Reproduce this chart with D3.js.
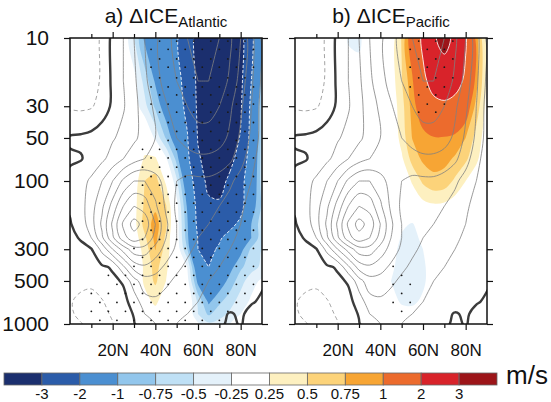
<!DOCTYPE html>
<html>
<head>
<meta charset="utf-8">
<script src="https://cdn.jsdelivr.net/npm/d3@7"></script>
<style>
  body { margin: 0; background: #fff; }
  text { font-family: "Liberation Sans", Arial, Helvetica, sans-serif; }
</style>
</head>
<body>
<div id="chart"></div>
<script>
// ---- data ----
// grid: latitude (deg N) x pressure (hPa)
var lats = [0, 5, 10, 15, 20, 25, 30, 35, 40, 45, 50, 55, 60, 65, 70, 75, 80, 85, 90];
var levels = [10, 20, 30, 50, 70, 100, 150, 200, 250, 300, 400, 500, 700, 850, 1000];

// climatological zonal wind (grey contours), m/s
var uClim = [
  [-7.5, -7, -6.5, -4.5, 1.5, 5, 10, 15, 19, 23, 27, 30, 32, 32, 30, 26, 20, 12, 4],
  [-7.5, -7, -6.5, -4.5, 1.2, 5, 9, 14, 18, 22, 25, 28, 30, 30, 28, 24, 18, 11, 4],
  [-6, -6, -5.5, -3, 1, 4.5, 8.5, 12.5, 16, 19.5, 23, 25, 27, 27, 25, 21, 16, 10, 3],
  [0.5, 0.8, 1.5, 3, 4.5, 6.5, 9, 12, 15, 17.5, 20, 22, 23, 23, 22, 19, 14, 9, 3],
  [-0.5, -0.3, 1.5, 4, 7, 10, 13, 15, 16, 16.5, 17, 18, 19, 19, 18, 16, 12, 7, 2],
  [1, 3, 6, 10, 15, 21, 25, 25, 22, 18, 15, 14, 14, 14, 13, 11, 8, 5, 1.5],
  [0.5, 3, 8, 14, 22, 30, 35, 33, 26, 19, 14, 12, 12, 11, 10, 8, 6, 3, 1],
  [-0.3, 2, 8, 16, 26, 36, 42, 38, 30, 21, 15, 12, 11, 10, 9, 7, 5, 2.5, 1],
  [-1.5, 0.5, 5, 14, 24, 33, 38, 35, 28, 20, 15, 12, 10, 9, 8, 6, 4, 2, 0.8],
  [-3, -1.5, -0.3, 6.5, 15, 22, 28, 28, 23, 18, 14, 11, 9, 8, 7, 5, 3.5, 1.5, 0.5],
  [-4, -3, -2, -0.8, 0.6, 9, 17, 19, 17, 14, 11, 9, 7, 6, 5, 4, 2.5, 1, 0.2],
  [-4.2, -4.3, -4.5, -3, -1, 0.5, 8, 13, 13, 11, 9, 7, 6, 5, 4, 3, 2, 1, 0.5],
  [-4.8, -5.6, -5.8, -5.3, -3.5, -1.5, 2, 8, 9, 8, 7, 6, 5, 4, 3, 2, 1, 0.3, -0.5],
  [-4.5, -5.8, -6.5, -6, -4.5, -2, 0.3, 5, 7, 7, 6, 5, 4, 3, 1, -0.3, 0.5, -1, -2],
  [-3.5, -4.8, -6, -6.2, -5.2, -2.5, -0.3, 3, 5, 6, 5, 4, 3, 2, 0.5, -0.5, 0.2, -1, -1.5]
];

// a) Delta ICE Atlantic, m/s
var anomAtl = [
  [0, 0, 0, 0, 0, -0.05, -0.5, -1.06, -1.34, -1.63, -1.91, -2.56, -3.3, -3.6, -3.7, -3.6, -3.3, -2.25, -0.9],
  [0, 0, 0, 0, 0, 0, -0.15, -0.6, -1.04, -1.4, -1.76, -2.3, -3.2, -3.55, -3.65, -3.55, -3.2, -2.0, -0.8],
  [0, 0, 0, 0, 0, 0, -0.1, -0.42, -0.8, -1.2, -1.64, -2.2, -3.15, -3.5, -3.6, -3.5, -3.1, -1.8, -0.6],
  [0, 0, 0, 0, 0, 0, 0, 0.1, -0.3, -0.77, -1.24, -1.95, -3.05, -3.4, -3.5, -3.35, -2.95, -1.7, -0.6],
  [0, 0, 0, 0, 0, 0, 0.05, 0.28, 0.3, -0.2, -0.85, -1.8, -2.9, -3.3, -3.4, -3.2, -2.7, -1.5, -0.6],
  [0, 0, 0, 0, 0, 0, 0.1, 0.5, 0.6, 0.2, -0.45, -1.35, -2.6, -3.2, -3.25, -2.85, -2.3, -1.4, -0.6],
  [0, 0, 0, 0, 0, 0, 0.15, 0.55, 0.7, 0.52, -0.15, -1.05, -2.3, -2.85, -2.9, -2.7, -2.3, -1.2, -0.7],
  [0, 0, 0, 0, 0, 0, 0.15, 0.6, 0.85, 0.55, -0.1, -0.95, -2.2, -2.55, -2.5, -2.25, -1.8, -1.0, -0.6],
  [0, 0, 0, 0, 0, 0, 0.1, 0.45, 0.82, 0.45, -0.1, -0.9, -2.05, -2.35, -2.1, -1.7, -1.3, -1.0, -0.6],
  [0, 0, 0, 0, 0, 0, 0.05, 0.35, 0.76, 0.4, -0.05, -0.75, -2.0, -2.2, -1.9, -1.55, -1.1, -0.7, -0.5],
  [0, 0, 0, 0, 0, 0, 0, 0.3, 0.6, 0.3, 0, -0.25, -1.4, -2.0, -1.6, -1.1, -0.8, -0.6, -0.45],
  [0, 0, 0, 0, 0, 0, 0, 0.3, 0.55, 0.25, 0, -0.15, -1.1, -1.35, -1.2, -0.9, -0.6, -0.35, -0.2],
  [0, 0, 0, 0, 0, 0, 0, 0.15, 0.3, 0.1, 0, 0, -0.55, -1.05, -0.8, -0.6, -0.38, -0.2, -0.1],
  [0, 0, 0, 0, 0, 0, 0, 0.05, 0.15, 0, 0, 0, -0.5, -0.8, -0.6, -0.45, -0.25, -0.1, 0],
  [0, 0, 0, 0, 0, 0, 0, 0, 0, 0, 0, 0, -0.2, -0.45, -0.4, -0.25, -0.1, 0, 0]
];

// b) Delta ICE Pacific, m/s
var anomPac = [
  [0, 0, 0, 0, 0, -0.28, -0.3, -0.1, 0, 0.1, 0.52, 1.3, 2.2, 2.9, 3.3, 2.8, 2.1, 0.85, 0.15],
  [0, 0, 0, 0, 0, -0.1, -0.15, 0, 0, 0.1, 0.48, 0.95, 1.8, 2.35, 2.5, 2.35, 1.85, 0.85, 0.2],
  [0, 0, 0, 0, 0, 0, 0, 0, 0, 0.05, 0.4, 0.85, 1.3, 1.75, 1.85, 1.7, 1.25, 0.65, 0.15],
  [0, 0, 0, 0, 0, 0, 0, 0, 0, 0, 0.35, 0.76, 0.88, 0.97, 0.97, 0.9, 0.75, 0.4, 0.1],
  [0, 0, 0, 0, 0, 0, 0, 0, 0, 0, 0.2, 0.6, 0.8, 0.85, 0.82, 0.72, 0.55, 0.3, 0.05],
  [0, 0, 0, 0, 0, 0, 0, 0, 0, 0, 0.05, 0.28, 0.55, 0.68, 0.65, 0.45, 0.25, 0.1, 0],
  [0, 0, 0, 0, 0, 0, 0, 0, 0, 0, 0, 0.05, 0.15, 0.2, 0.18, 0.1, 0, 0, 0],
  [0, 0, 0, 0, 0, 0, 0, 0, 0, 0, -0.2, -0.27, -0.1, 0, 0, 0, 0, 0, 0],
  [0, 0, 0, 0, 0, 0, 0, 0, 0, -0.05, -0.28, -0.32, -0.2, 0, 0, 0, 0, 0, 0],
  [0, 0, 0, 0, 0, 0, 0, 0, 0, -0.15, -0.32, -0.35, -0.25, -0.05, 0, 0, 0, 0, 0],
  [0, 0, 0, 0, 0, 0, 0, 0, 0, -0.2, -0.35, -0.38, -0.3, -0.1, 0, 0, 0, 0, 0],
  [0, 0, 0, 0, 0, 0, 0, 0, 0, -0.25, -0.35, -0.35, -0.3, -0.1, 0, 0, 0, 0, 0],
  [0, 0, 0, 0, 0, 0, 0, 0, 0, -0.15, -0.28, -0.3, -0.2, 0, 0, 0, 0, 0, 0],
  [0, 0, 0, 0, 0, 0, 0, 0, 0, 0, -0.15, -0.15, 0, 0, 0, 0, 0, 0, 0],
  [0, 0, 0, 0, 0, 0, 0, 0, 0, 0, 0, 0, 0, 0, 0, 0, 0, 0, 0]
];

// significance (stippling) masks on the same grid, one string per level
var sigAtl = [
  "0000000011111111110",
  "0000000011111111110",
  "0000000011111111110",
  "0000000001111111110",
  "0000000111111111110",
  "0000000111111111110",
  "0000000111111111110",
  "0000000111111111110",
  "0000000111111111110",
  "0000001111111111110",
  "0000011111111111110",
  "0000111111111111110",
  "0011111111111111100",
  "0111111111111111000",
  "0011111111111110000"
];
var sigPac = [
  "0000000000011111000",
  "0000000000011111000",
  "0000000000001110000",
  "0000000000000000000",
  "0000000000000000000",
  "0000000000000000000",
  "0000000000000000000",
  "0000000000000000000",
  "0000000000000000000",
  "0000000000000000000",
  "0000000001100000000",
  "0000000001110000000",
  "0000000001110000000",
  "0000000000100010000",
  "0000000000000000000"
];
// stipple lattice
var stippleLats = [2, 6, 10, 14, 18, 22, 26, 30, 34, 38, 42, 46, 50, 54, 58, 62, 66, 70, 74, 78, 82, 86];
var stippleLevels = [10.5, 12, 14, 16, 19, 22, 25, 29, 33, 39, 45, 52, 60, 69, 80, 93, 107, 124, 143,
                     165, 191, 221, 256, 296, 342, 395, 457, 528, 611, 706, 816, 943];

// colour scale
var binEdges = [-3, -2, -1, -0.75, -0.5, -0.25, 0.25, 0.5, 0.75, 1, 2, 3];
var binLabels = ["-3", "-2", "-1", "-0.75", "-0.5", "-0.25", "0.25", "0.5", "0.75", "1", "2", "3"];
var binColors = ["#1b2f6e", "#2b5ca9", "#4b8fd1", "#92c6ec", "#bfe0f5", "#e4f1fa", "#ffffff",
                 "#fdf0c0", "#fcd37a", "#f7a534", "#ec6b2d", "#d8232a", "#9c1519"];

var climPos = [5, 10, 15, 20, 25, 30, 35, 40];
var climNeg = [-5];

var yTicks = [10, 30, 50, 100, 300, 500, 1000];
var xMajor = [20, 40, 60, 80];
var xMinor = [10, 30, 50, 70];

var panels = [
  { title: "a) \u0394ICE", sub: "Atlantic", anom: anomAtl, sig: sigAtl, left: 70,
    whiteLevels: [-2, -3], whiteDash: "3,2", yLabels: true },
  { title: "b) \u0394ICE", sub: "Pacific", anom: anomPac, sig: sigPac, left: 295,
    whiteLevels: [2, 3], whiteDash: null, yLabels: false }
];

// ---- layout ----
var svgWidth = 551, svgHeight = 402;
var plotTop = 38, plotBottom = 324, plotWidth = 192;

var svg = d3.select("#chart").append("svg")
  .attr("width", svgWidth)
  .attr("height", svgHeight);

var y = d3.scaleLog().domain([10, 1000]).range([plotTop, plotBottom]);

// grid index -> lat / log-pressure (extrapolates half a cell past the frame)
var latIdx = d3.scaleLinear().domain(d3.range(lats.length)).range(lats);
var levIdx = d3.scaleLinear().domain(d3.range(levels.length)).range(levels.map(function(p) { return Math.log10(p); }));

var contourGen = d3.contours().size([lats.length, levels.length]);
var ringLine = d3.line().curve(d3.curveCatmullRomClosed.alpha(0.5));

function toPx(pt, x) {
  return [x(latIdx(pt[0] - 0.5)), y(Math.pow(10, levIdx(pt[1] - 0.5)))];
}

function contourPath(values, t, x) {
  var mp = contourGen.contour(values, t);
  return mp.coordinates.map(function(poly) {
    return poly.map(function(ring) {
      return ringLine(ring.slice(0, -1).map(function(p) { return toPx(p, x); }));
    }).join("");
  }).join("");
}

function nearest(arr, v) {
  var best = 0;
  arr.forEach(function(a, i) { if (Math.abs(a - v) < Math.abs(arr[best] - v)) best = i; });
  return best;
}

var climFlat = d3.merge(uClim);
var logLevels = levels.map(function(p) { return Math.log10(p); });

panels.forEach(function(panel, pi) {
  var x = d3.scaleLinear().domain([0, 90]).range([panel.left, panel.left + plotWidth]);
  var g = svg.append("g");

  var clipId = "clip" + pi;
  svg.append("clipPath").attr("id", clipId)
    .append("rect")
    .attr("x", panel.left).attr("y", plotTop)
    .attr("width", plotWidth).attr("height", plotBottom - plotTop);

  var inner = g.append("g").attr("clip-path", "url(#" + clipId + ")");
  inner.append("rect")
    .attr("x", panel.left).attr("y", plotTop)
    .attr("width", plotWidth).attr("height", plotBottom - plotTop)
    .attr("fill", "#fff");

  var anomFlat = d3.merge(panel.anom);
  var negFlat = anomFlat.map(function(v) { return -v; });

  // shaded anomalies: negative side (outermost first), then positive side
  for (var k = 5; k >= 0; k--) {
    inner.append("path")
      .attr("d", contourPath(negFlat, -binEdges[k], x))
      .attr("fill", binColors[k])
      .attr("fill-rule", "evenodd");
  }
  for (var k2 = 6; k2 < binEdges.length; k2++) {
    inner.append("path")
      .attr("d", contourPath(anomFlat, binEdges[k2], x))
      .attr("fill", binColors[k2 + 1])
      .attr("fill-rule", "evenodd");
  }

  // white anomaly contours
  panel.whiteLevels.forEach(function(lv) {
    var d = lv < 0 ? contourPath(negFlat, -lv, x) : contourPath(anomFlat, lv, x);
    inner.append("path")
      .attr("d", d)
      .attr("fill", "none")
      .attr("stroke", "#fff")
      .attr("stroke-opacity", 0.85)
      .attr("stroke-width", 1)
      .attr("stroke-dasharray", panel.whiteDash);
  });

  // climatology contours
  climPos.forEach(function(lv) {
    inner.append("path")
      .attr("d", contourPath(climFlat, lv, x))
      .attr("fill", "none")
      .attr("stroke", "#808080")
      .attr("stroke-width", 0.8);
  });
  climNeg.forEach(function(lv) {
    inner.append("path")
      .attr("d", contourPath(climFlat, lv, x))
      .attr("fill", "none")
      .attr("stroke", "#9a9a9a")
      .attr("stroke-width", 0.9)
      .attr("stroke-dasharray", "4,3");
  });
  inner.append("path")
    .attr("d", contourPath(climFlat, 0, x))
    .attr("fill", "none")
    .attr("stroke", "#3c3c3c")
    .attr("stroke-width", 2.4);

  // stippling
  var dots = [];
  stippleLevels.forEach(function(p, r) {
    var row = nearest(logLevels, Math.log10(p));
    stippleLats.forEach(function(lat, c) {
      if ((r + c) % 2 !== 0) return;
      var col = nearest(lats, lat);
      if (panel.sig[row].charAt(col) === "1") dots.push({ lat: lat, p: p });
    });
  });
  inner.selectAll("circle.dot")
    .data(dots)
    .enter()
    .append("circle")
    .attr("class", "dot")
    .attr("cx", function(d) { return x(d.lat); })
    .attr("cy", function(d) { return y(d.p); })
    .attr("r", 0.9)
    .attr("fill", "#1a1a1a");

  // frame
  g.append("rect")
    .attr("x", panel.left).attr("y", plotTop)
    .attr("width", plotWidth).attr("height", plotBottom - plotTop)
    .attr("fill", "none")
    .attr("stroke", "#111")
    .attr("stroke-width", 1.5);

  // axes
  function styleAxis(sel) {
    sel.select(".domain").remove();
    sel.selectAll(".tick line").attr("stroke", "#111").attr("stroke-width", 1.2);
    sel.attr("font-family", null).attr("font-size", null);
  }
  g.append("g")
    .attr("transform", "translate(0," + plotBottom + ")")
    .call(d3.axisBottom(x).tickValues(xMajor).tickSize(6).tickPadding(14)
      .tickFormat(function(d) { return d + "N"; }))
    .call(styleAxis)
    .selectAll("text").attr("font-size", 17).attr("fill", "#111");
  g.append("g")
    .attr("transform", "translate(0," + plotBottom + ")")
    .call(d3.axisBottom(x).tickValues(xMinor).tickSize(4).tickFormat(""))
    .call(styleAxis);
  g.append("g")
    .attr("transform", "translate(0," + plotTop + ")")
    .call(d3.axisTop(x).tickValues(xMajor).tickSize(6).tickFormat(""))
    .call(styleAxis);
  g.append("g")
    .attr("transform", "translate(0," + plotTop + ")")
    .call(d3.axisTop(x).tickValues(xMinor).tickSize(4).tickFormat(""))
    .call(styleAxis);
  g.append("g")
    .attr("transform", "translate(" + panel.left + ",0)")
    .call(d3.axisLeft(y).tickValues(yTicks).tickSize(6).tickPadding(15)
      .tickFormat(panel.yLabels ? d3.format("d") : ""))
    .call(styleAxis)
    .selectAll("text").attr("font-size", 21).attr("fill", "#111");
  g.append("g")
    .attr("transform", "translate(" + (panel.left + plotWidth) + ",0)")
    .call(d3.axisRight(y).tickValues(yTicks).tickSize(6).tickFormat(""))
    .call(styleAxis);

  // title
  var title = g.append("text")
    .attr("x", panel.left + plotWidth / 2)
    .attr("y", 23)
    .attr("text-anchor", "middle")
    .attr("font-size", 21)
    .attr("fill", "#111");
  title.append("tspan").text(panel.title);
  title.append("tspan").attr("dy", 4).attr("font-size", 15).text(panel.sub);
});

// ---- colour bar ----
var cbX = d3.scaleLinear().domain([0, binColors.length]).range([4, 497]);
var cbTop = 373, cbHeight = 12;
var cb = svg.append("g");
cb.selectAll("rect")
  .data(binColors)
  .enter()
  .append("rect")
  .attr("x", function(d, i) { return cbX(i); })
  .attr("y", cbTop)
  .attr("width", function(d, i) { return cbX(i + 1) - cbX(i); })
  .attr("height", cbHeight)
  .attr("fill", function(d) { return d; })
  .attr("stroke", "#666")
  .attr("stroke-width", 0.8);
cb.selectAll("text.cbl")
  .data(binLabels)
  .enter()
  .append("text")
  .attr("class", "cbl")
  .attr("x", function(d, i) { return cbX(i + 1); })
  .attr("y", 399)
  .attr("text-anchor", "middle")
  .attr("font-size", 15)
  .attr("fill", "#111")
  .text(function(d) { return d; });
cb.append("text")
  .attr("x", 506)
  .attr("y", 384)
  .attr("font-size", 26)
  .attr("fill", "#111")
  .text("m/s");
</script>
</body>
</html>
